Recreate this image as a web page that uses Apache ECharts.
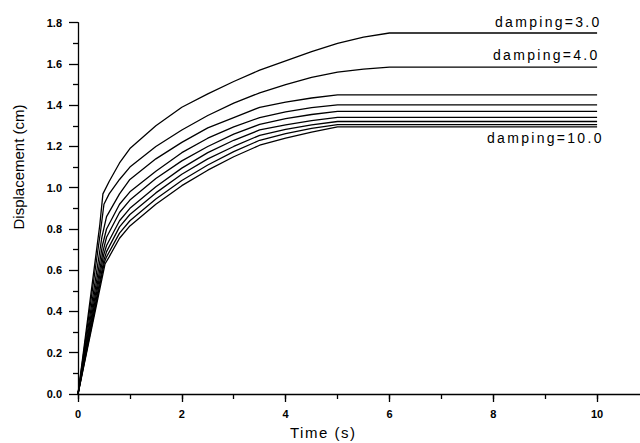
<!DOCTYPE html>
<html>
<head>
<meta charset="utf-8">
<script src="https://cdn.jsdelivr.net/npm/echarts@6/dist/echarts.min.js"></script>
<style>
  html, body { margin: 0; padding: 0; background: #fff; }
  #chart { width: 640px; height: 443px; }
</style>
</head>
<body>
<div id="chart"></div>
<script>
// displacement curves, [time (s), displacement (cm)], top curve (damping=3.0) to bottom (damping=10.0)
const curve1 = [[0,0],[0.42,0.82],[0.48,0.97],[0.6,1.03],[0.8,1.12],[1,1.19],[1.5,1.30],[2,1.39],[2.5,1.455],[3,1.515],[3.5,1.57],[4,1.615],[4.5,1.66],[5,1.70],[5.5,1.73],[6,1.75],[10,1.75]];
const curve2 = [[0,0],[0.44,0.80],[0.5,0.92],[0.6,0.97],[0.8,1.04],[1,1.10],[1.5,1.20],[2,1.28],[2.5,1.35],[3,1.41],[3.5,1.46],[4,1.50],[4.5,1.535],[5,1.56],[5.5,1.575],[6,1.585],[10,1.585]];
const curve3 = [[0,0],[0.46,0.76],[0.55,0.86],[0.8,0.97],[1,1.04],[1.5,1.14],[2,1.22],[2.5,1.29],[3,1.34],[3.5,1.39],[4,1.415],[4.5,1.435],[5,1.45],[10,1.45]];
const curve4 = [[0,0],[0.47,0.72],[0.55,0.80],[0.8,0.92],[1,0.98],[1.5,1.08],[2,1.17],[2.5,1.24],[3,1.295],[3.5,1.34],[4,1.368],[4.5,1.388],[5,1.402],[10,1.402]];
const curve5 = [[0,0],[0.48,0.69],[0.55,0.76],[0.8,0.88],[1,0.94],[1.5,1.045],[2,1.13],[2.5,1.20],[3,1.26],[3.5,1.307],[4,1.335],[4.5,1.355],[5,1.37],[10,1.37]];
const curve6 = [[0,0],[0.49,0.67],[0.55,0.72],[0.8,0.84],[1,0.90],[1.5,1.005],[2,1.095],[2.5,1.17],[3,1.23],[3.5,1.28],[4,1.305],[4.5,1.325],[5,1.341],[10,1.341]];
const curve7 = [[0,0],[0.5,0.65],[0.55,0.69],[0.8,0.81],[1,0.87],[1.5,0.975],[2,1.065],[2.5,1.14],[3,1.20],[3.5,1.254],[4,1.283],[4.5,1.305],[5,1.321],[10,1.321]];
const curve8 = [[0,0],[0.51,0.64],[0.55,0.665],[0.8,0.78],[1,0.84],[1.5,0.945],[2,1.035],[2.5,1.11],[3,1.175],[3.5,1.23],[4,1.262],[4.5,1.288],[5,1.306],[10,1.306]];
const curve9 = [[0,0],[0.52,0.63],[0.6,0.665],[0.8,0.755],[1,0.815],[1.5,0.92],[2,1.01],[2.5,1.085],[3,1.15],[3.5,1.206],[4,1.24],[4.5,1.27],[5,1.295],[10,1.295]];

const curves = [curve1, curve2, curve3, curve4, curve5, curve6, curve7, curve8, curve9];
const notes = ['damping=3.0', 'damping=4.0', 'damping=10.0'];
const xTitle = 'Time (s)';
const yTitle = 'Displacement (cm)';

const FONT = '"Liberation Sans", Arial, sans-serif';
const BLACK = '#000';

const chart = echarts.init(document.getElementById('chart'), null, { renderer: 'svg' });

// spread the annotation letters a bit, the original uses a wide bitmap font
chart.on('finished', () => {
  document.querySelectorAll('#chart text').forEach(t => {
    const s = t.textContent;
    if (s.startsWith('damping')) t.style.letterSpacing = '2.3px';
    else if (s === xTitle) t.style.letterSpacing = '1.5px';
  });
});

const tickLabel = { color: BLACK, fontFamily: FONT, fontSize: 11, fontWeight: 'bold' };

chart.setOption({
  animation: false,
  backgroundColor: '#fff',
  grid: { left: 78, top: 22.7, width: 571, height: 371.3, outerBoundsMode: 'none' },
  xAxis: [{
    type: 'value', min: 0, max: 11, interval: 2,
    axisLine: { lineStyle: { color: BLACK, width: 1.3 } },
    axisTick: { length: 8, lineStyle: { color: BLACK, width: 1.3 } },
    axisLabel: Object.assign({ margin: 14, formatter: v => (v <= 10 ? String(v) : '') }, tickLabel),
    splitLine: { show: false }
  }, {
    type: 'value', min: 0, max: 11, interval: 1, position: 'bottom',
    axisLine: { show: false },
    axisTick: { length: 5, lineStyle: { color: BLACK, width: 1.3 } },
    axisLabel: { show: false },
    splitLine: { show: false }
  }],
  yAxis: {
    type: 'value', min: 0, max: 1.8, interval: 0.2,
    axisLine: { show: true, lineStyle: { color: BLACK, width: 1.3 } },
    axisTick: { show: true, length: 9, lineStyle: { color: BLACK, width: 1.3 } },
    minorTick: { show: true, splitNumber: 2, length: 5, lineStyle: { color: BLACK, width: 1.3 } },
    axisLabel: Object.assign({ margin: 16, formatter: v => v.toFixed(1) }, tickLabel),
    splitLine: { show: false }
  },
  series: curves.map((c, i) => ({
    name: 'curve' + (i + 1),
    type: 'line',
    data: c,
    symbol: 'none',
    silent: true,
    lineStyle: { color: BLACK, width: 1.3 }
  })),
  graphic: [
    { type: 'text', x: 495, y: 21.5, style: { text: notes[0], font: '14px ' + FONT, fill: BLACK, align: 'left', verticalAlign: 'middle' } },
    { type: 'text', x: 493, y: 55, style: { text: notes[1], font: '14px ' + FONT, fill: BLACK, align: 'left', verticalAlign: 'middle' } },
    { type: 'text', x: 487, y: 138, style: { text: notes[2], font: '14px ' + FONT, fill: BLACK, align: 'left', verticalAlign: 'middle' } },
    { type: 'text', x: 290, y: 432, style: { text: xTitle, font: '15px ' + FONT, fill: BLACK, align: 'left', verticalAlign: 'middle' } },
    { type: 'text', x: 18, y: 167, rotation: Math.PI / 2, style: { text: yTitle, font: '15px ' + FONT, fill: BLACK, align: 'center', verticalAlign: 'middle' } }
  ]
});
</script>
</body>
</html>
